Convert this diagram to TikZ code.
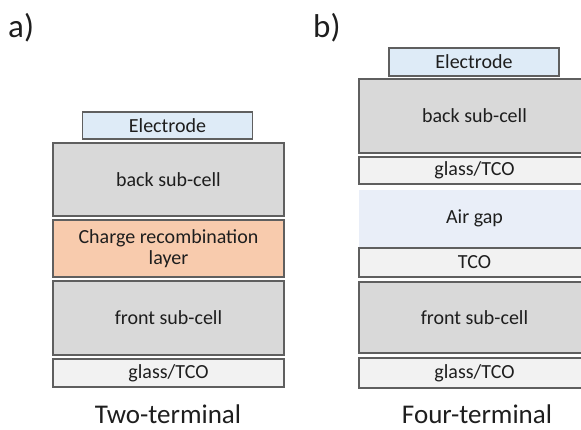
\documentclass[tikz,border=0pt]{standalone}
\usepackage{fontspec}
\setmainfont{Carlito}
\definecolor{cellgray}{HTML}{D9D9D9}
\definecolor{glassfill}{HTML}{F2F2F2}
\definecolor{elecfill}{HTML}{DEEBF7}
\definecolor{crlfill}{HTML}{F8CBAD}
\definecolor{airfill}{HTML}{E9EEF8}
\definecolor{edge}{HTML}{5F5F5F}
\definecolor{txt}{HTML}{1E1E1E}
\begin{document}
\begin{tikzpicture}[x=1pt,y=-1pt,
  layer/.style={draw=edge,line width=1.1pt,inner sep=0pt,text=txt,font=\fontsize{20}{23}\selectfont,align=center,minimum width=231pt},
  elec/.style={layer,fill=elecfill,minimum width=170pt},
  title/.style={text=txt,font=\fontsize{27}{30}\selectfont,anchor=base,inner sep=0pt},
  panel/.style={text=txt,font=\fontsize{33}{36}\selectfont,anchor=base west,inner sep=0pt}]
\clip (0,0) rectangle (581,429);
\fill[white] (0,0) rectangle (581,429);
% panel a
\node[panel] (la) at (8,37) {a)};
\node[elec,minimum height=27pt] (elecA) at (167.5,125.5) {Electrode};
\node[layer,fill=cellgray,minimum height=73pt] (backA) at (168.5,179.5) {back sub-cell};
\node[layer,fill=crlfill,minimum height=57pt] (crlA) at (168.5,248.5) {Charge recombination\\[-2pt]layer};
\node[layer,fill=cellgray,minimum height=74pt] (frontA) at (168.5,318) {front sub-cell};
\node[layer,fill=glassfill,minimum height=28pt] (glassA) at (168.5,373) {glass/TCO};
\node[title] (titleA) at (168,423) {Two-terminal};
% panel b
\node[panel] (lb) at (313,37) {b)};
\node[elec,minimum height=28pt] (elecB) at (474,62) {Electrode};
\node[layer,fill=cellgray,minimum height=74pt] (backB) at (474.5,116) {back sub-cell};
\node[layer,fill=glassfill,minimum height=27pt] (glassB1) at (474.5,170.5) {glass/TCO};
\node[layer,draw=none,fill=airfill,minimum height=57pt] (airB) at (474.5,218.5) {Air gap};
\node[layer,fill=glassfill,minimum height=29pt] (tcoB) at (474.5,262.5) {TCO};
\node[layer,fill=cellgray,minimum height=71pt] (frontB) at (474.5,317.5) {front sub-cell};
\node[layer,fill=glassfill,minimum height=30pt] (glassB2) at (474.5,373) {glass/TCO};
\node[title] (titleB) at (477,423) {Four-terminal};
\end{tikzpicture}
\end{document}
